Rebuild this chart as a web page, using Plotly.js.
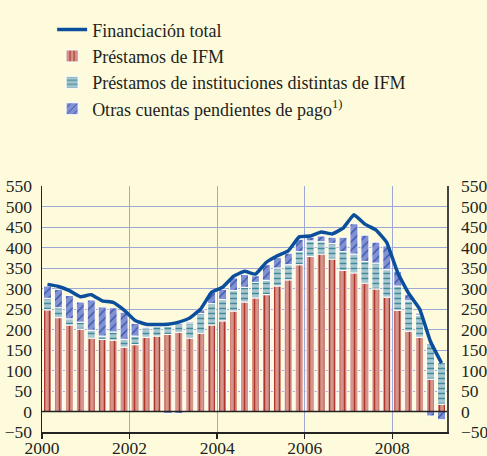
<!DOCTYPE html>
<html>
<head>
<meta charset="utf-8">
<script src="https://cdn.plot.ly/plotly-3.0.1.min.js"></script>
<style>
html,body{margin:0;padding:0;background:#FEFBDD;}
#chart{width:487px;height:456px;}
</style>
</head>
<body>
<div id="chart"></div>
<script>
// Quarterly observations 2000 Q1 – 2009 Q1
const quarters = [
 "2000Q1","2000Q2","2000Q3","2000Q4","2001Q1","2001Q2","2001Q3","2001Q4",
 "2002Q1","2002Q2","2002Q3","2002Q4","2003Q1","2003Q2","2003Q3","2003Q4",
 "2004Q1","2004Q2","2004Q3","2004Q4","2005Q1","2005Q2","2005Q3","2005Q4",
 "2006Q1","2006Q2","2006Q3","2006Q4","2007Q1","2007Q2","2007Q3","2007Q4",
 "2008Q1","2008Q2","2008Q3","2008Q4","2009Q1"
];
const prestamosIFM = [248,229,211,201,179,176,174,157,163,181,184,188,193,179,191,211,
 221,245,267,277,285,306,321,358,378,384,372,344,338,313,299,279,247,196,181,79,18];
const prestamosNoIFM = [28,24,15,17,19,8,20,19,21,23,23,20,22,37,48,52,
 52,50,36,38,35,44,37,32,38,30,38,46,46,53,63,67,59,74,54,87,101];
const otrasCuentas = [30,45,57,49,74,71,59,66,31,2,1,-5,-5,3,9,27,
 25,31,31,16,38,26,28,30,9,14,15,35,74,64,51,58,36,15,5,-11,-20];
const financiacionTotal = [310,305,295,280,285,270,266,247,222,213,212,213,218,228,250,291,
 303,330,342,335,364,380,392,426,428,438,433,447,480,457,443,412,338,288,250,170,118];

const tickYears = [2000,2002,2004,2006,2008];
const tickLabels = ["2000","2002","2004","2006","2008"];

// quarter -> position at centre of the quarter on a year axis
const xq = quarters.map(q => Number(q.slice(0,4)) + (Number(q.slice(5)) - 0.5) / 4);

const FONT = "'Liberation Serif', 'Times New Roman', serif";
const TXT = "#231f20";
const GRID = "#9ea8d8";

const barLine = {color:"#ffffff", width:1};

const data = [
  {type:"scatter", mode:"lines", name:"Financiación total", x:xq, y:financiacionTotal,
   yaxis:"y2", line:{color:"#0b4f9c", width:3.5, shape:"spline", smoothing:0.3}},
  {type:"bar", name:"Préstamos de IFM", x:xq, y:prestamosIFM,
   marker:{color:"#d4968a", line:barLine,
     pattern:{shape:"|", fgcolor:"#b0352c", bgcolor:"#d4968a", size:5, solidity:0.3}}},
  {type:"bar", name:"Préstamos de instituciones distintas de IFM", x:xq, y:prestamosNoIFM,
   marker:{color:"#a9c7d0", line:barLine,
     pattern:{shape:"-", fgcolor:"#3f8b97", bgcolor:"#a9c7d0", size:5, solidity:0.3}}},
  {type:"bar", name:"Otras cuentas pendientes de pago<sup>1)</sup>", x:xq, y:otrasCuentas,
   marker:{color:"#8191d2", line:barLine,
     pattern:{shape:"/", fgcolor:"#3552a8", bgcolor:"#8191d2", size:6, solidity:0.2}}}
];

const yCommon = {
  range:[-50,550], dtick:50, tick0:0, fixedrange:true,
  tickfont:{family:FONT, size:17.5, color:TXT},
  ticks:"", zeroline:false
};

const layout = {
  width:487, height:456,
  paper_bgcolor:"#FEFBDD", plot_bgcolor:"#FEFBDD",
  margin:{l:42, r:40, t:182, b:24},
  barmode:"relative", bargap:0.27,
  font:{family:FONT, size:18, color:TXT},
  showlegend:true,
  legend:{x:0.025, y:1.71, xanchor:"left", yanchor:"top", traceorder:"normal",
    bgcolor:"rgba(0,0,0,0)", font:{family:FONT, size:18, color:TXT},
    itemwidth:30, tracegroupgap:0},
  xaxis:{range:[2000,2009.25], tickvals:tickYears, ticktext:tickLabels,
    showgrid:true, gridcolor:GRID, gridwidth:1,
    showline:true, linecolor:"#222", linewidth:1.5,
    ticks:"outside", ticklen:5, tickcolor:"#222", tickwidth:1.5, ticklabelstandoff:-6,
    tickfont:{family:FONT, size:17.5, color:TXT}, zeroline:false},
  yaxis:Object.assign({}, yCommon, {side:"left", showgrid:true, gridcolor:GRID, gridwidth:1,
    showline:true, linecolor:"#222", linewidth:1.5, ticklabelstandoff:5}),
  yaxis2:Object.assign({}, yCommon, {side:"right", overlaying:"y", showgrid:false,
    showline:true, linecolor:"#444", linewidth:1.5, ticklabelstandoff:9}),
  shapes:[
    {type:"line", xref:"paper", x0:0, x1:1, yref:"y", y0:0, y1:0,
     line:{color:"#222", width:1.5}, layer:"above"}
  ]
};

Plotly.newPlot("chart", data, layout, {displayModeBar:false, staticPlot:true});
</script>
</body>
</html>
